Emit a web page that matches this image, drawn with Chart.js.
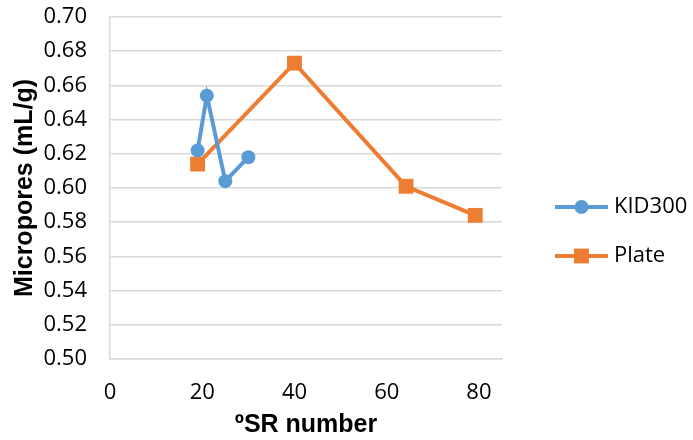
<!DOCTYPE html>
<html>
<head>
<meta charset="utf-8">
<script src="https://cdn.jsdelivr.net/npm/chart.js@4"></script>
<style>
  html, body { margin: 0; padding: 0; background: #fff; }
  #wrap { width: 693px; height: 440px; }
</style>
</head>
<body>
<div id="wrap"><canvas id="myChart" width="693" height="440"></canvas></div>
<script>
// values
const kidX = [19, 21, 25, 30];
const kidY = [0.622, 0.654, 0.604, 0.618];
const plateX = [19, 40, 64.2, 79.2];
const plateY = [0.614, 0.673, 0.601, 0.584];
const xTicks = [0, 20, 40, 60, 80];
const yTicks = [0.50, 0.52, 0.54, 0.56, 0.58, 0.60, 0.62, 0.64, 0.66, 0.68, 0.70];
const seriesNames = ["KID300", "Plate"];

const toPoints = (xs, ys) => xs.map((x, i) => ({ x: x, y: ys[i] }));

const tickFont = { family: "'Open Sans', sans-serif", size: 22 };
const titleFont = { family: "'Liberation Sans', Arial, sans-serif", size: 25, weight: 'bold' };

// Excel-style legend: line with marker in the middle, label on the right
const sideLegend = {
  id: 'sideLegend',
  afterDraw(chart) {
    const ctx = chart.ctx;
    const area = chart.chartArea;
    const x0 = area.right + 53;
    const rows = [207, 256];
    chart.data.datasets.forEach((ds, i) => {
      const y = rows[i];
      ctx.save();
      ctx.strokeStyle = ds.borderColor;
      ctx.lineWidth = ds.borderWidth;
      ctx.beginPath();
      ctx.moveTo(x0, y);
      ctx.lineTo(x0 + 53, y);
      ctx.stroke();
      ctx.fillStyle = ds.backgroundColor;
      Chart.helpers.drawPoint(ctx, {
        pointStyle: ds.pointStyle,
        radius: ds.pointRadius,
        borderWidth: 0
      }, x0 + 26.5, y);
      ctx.fillStyle = '#000';
      ctx.font = "22px 'Open Sans', sans-serif";
      ctx.textAlign = 'left';
      ctx.textBaseline = 'middle';
      ctx.fillText(ds.label, x0 + 59, y);
      ctx.restore();
    });
  }
};

new Chart(document.getElementById('myChart'), {
  type: 'line',
  data: {
    datasets: [{
      label: seriesNames[0],
      data: toPoints(kidX, kidY),
      borderColor: '#5B9BD5',
      backgroundColor: '#5B9BD5',
      borderWidth: 4,
      pointStyle: 'circle',
      pointRadius: 7,
      pointBorderWidth: 0,
      tension: 0
    }, {
      label: seriesNames[1],
      data: toPoints(plateX, plateY),
      borderColor: '#ED7D31',
      backgroundColor: '#ED7D31',
      borderWidth: 4,
      pointStyle: 'rect',
      pointRadius: 10.5,
      pointBorderWidth: 0,
      tension: 0
    }]
  },
  options: {
    responsive: false,
    animation: false,
    layout: { autoPadding: false, padding: { top: 17, right: 191, bottom: 0, left: 0 } },
    plugins: {
      legend: { display: false },
      tooltip: { enabled: false }
    },
    scales: {
      x: {
        type: 'linear',
        min: 0,
        max: 85,
        afterBuildTicks: (axis) => { axis.ticks = xTicks.map((v) => ({ value: v })); },
        afterFit: (axis) => {
          axis.height = 81;
          axis.paddingLeft = 0;
          axis.paddingRight = 0;
        },
        grid: { display: false, drawTicks: false },
        border: { display: true, color: '#D9D9D9', width: 1.5 },
        ticks: { color: '#000', font: tickFont, padding: 21, maxRotation: 0 },
        title: { display: true, text: 'ºSR number', color: '#000', font: titleFont, padding: { top: 0, bottom: 0 } }
      },
      y: {
        min: 0.5,
        max: 0.7,
        afterBuildTicks: (axis) => { axis.ticks = yTicks.map((v) => ({ value: v })); },
        afterFit: (axis) => {
          axis.width = 110;
          axis.paddingTop = 0;
          axis.paddingBottom = 0;
        },
        grid: { color: '#D9D9D9', lineWidth: 1.5, drawTicks: false },
        border: { display: true, color: '#D9D9D9', width: 1.5 },
        ticks: {
          color: '#000',
          font: tickFont,
          padding: 23,
          callback: (v) => Number(v).toFixed(2)
        },
        title: { display: true, text: 'Micropores (mL/g)', color: '#000', font: titleFont, padding: { top: 10, bottom: 0 } }
      }
    }
  },
  plugins: [sideLegend]
});
</script>
</body>
</html>
